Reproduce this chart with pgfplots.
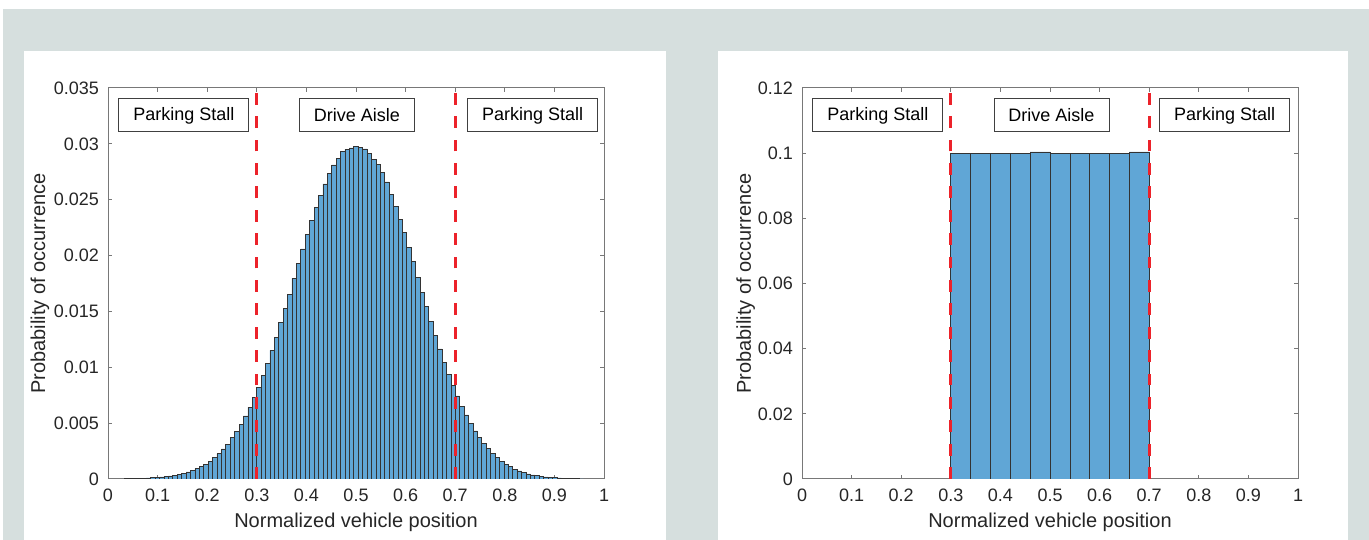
\documentclass[border=0pt]{standalone}
\usepackage{fontspec}
\setmainfont{Liberation Sans}
\usepackage{pgfplots}
\pgfplotsset{compat=1.18}
\definecolor{bggray}{RGB}{214,223,222}
\definecolor{barblue}{RGB}{96,166,214}
\definecolor{dashred}{RGB}{236,34,42}
\definecolor{axgray}{RGB}{120,120,120}
\definecolor{txt}{RGB}{38,38,38}
\pgfplotsset{
  myaxis/.style={
    scale only axis, width=248pt, height=195.5pt,
    xmin=0, xmax=1, ymin=0,
    axis line style={axgray, line width=0.5pt},
    every tick/.style={axgray, line width=0.5pt},
    major tick length=2pt,
    tick align=inside,
    scaled ticks=false,
    xtick={0,0.1,0.2,0.3,0.4,0.5,0.6,0.7,0.8,0.9,1},
    xticklabels={0,0.1,0.2,0.3,0.4,0.5,0.6,0.7,0.8,0.9,1},
    tick label style={font=\fontsize{9}{10}\selectfont, text=txt},
    xticklabel style={yshift=-1.5pt},
    yticklabel style={xshift=-1pt},
    label style={font=\fontsize{10}{12}\selectfont, text=txt},
    xlabel={Normalized vehicle position},
    ylabel={Probability of occurrence},
    xlabel style={at={(axis description cs:0.5,-0.1228)}, anchor=base},
  },
}
\tikzset{lbl/.style={draw=black!75, line width=0.5pt, fill=white, font=\fontsize{9}{10}\selectfont, text=black, minimum height=16.5pt, inner xsep=0pt, inner ysep=0pt},
  reddash/.style={draw=dashred, mark=none, line width=1.65pt, dash pattern=on 5.85pt off 5.85pt},
  histbar/.style={ybar interval, fill=barblue, draw=black!80, line width=0.35pt}}
\begin{document}
\begin{tikzpicture}
\fill[white] (0pt,0pt) rectangle (684.5pt,270pt);
\fill[bggray] (1.5pt,0pt) rectangle (684.5pt,265.5pt);
\fill[white] (12pt,0pt) rectangle (333pt,244.5pt);
\fill[white] (359pt,0pt) rectangle (674pt,244.5pt);

\begin{axis}[myaxis, at={(54pt,30.5pt)}, anchor=south west,
  ymax=0.035,
  ytick={0,0.005,0.01,0.015,0.02,0.025,0.03,0.035},
  yticklabels={0,0.005,0.01,0.015,0.02,0.025,0.03,0.035},
  ylabel style={at={(axis description cs:-0.127,0.5)}, anchor=base},
]
\addplot[histbar] coordinates {
(0.03275,0.00002) (0.04165,0.00003) (0.05055,0.00004) (0.05945,0.00005)
(0.06835,0.00007) (0.07725,0.00009) (0.08615,0.00012) (0.09505,0.00015)
(0.10395,0.00018) (0.11285,0.00021) (0.12175,0.00027) (0.13065,0.00033)
(0.13955,0.00039) (0.14845,0.00051) (0.15735,0.00063) (0.16625,0.00078)
(0.17515,0.00092) (0.18405,0.00114) (0.19295,0.00134) (0.20185,0.00161)
(0.21075,0.00194) (0.21965,0.00227) (0.22855,0.00269) (0.23745,0.00313)
(0.24635,0.00370) (0.25525,0.00424) (0.26415,0.00490) (0.27305,0.00564)
(0.28195,0.00642) (0.29085,0.00728) (0.29975,0.00823) (0.30865,0.00928)
(0.31755,0.01035) (0.32645,0.01152) (0.33535,0.01268) (0.34425,0.01399)
(0.35315,0.01525) (0.36205,0.01653) (0.37095,0.01796) (0.37985,0.01927)
(0.38875,0.02059) (0.39765,0.02187) (0.40655,0.02312) (0.41545,0.02429)
(0.42435,0.02542) (0.43325,0.02641) (0.44215,0.02736) (0.45105,0.02811)
(0.45995,0.02871) (0.46885,0.02930) (0.47775,0.02951) (0.48665,0.02963)
(0.49555,0.02975) (0.50445,0.02969) (0.51335,0.02954) (0.52225,0.02915)
(0.53115,0.02862) (0.54005,0.02817) (0.54895,0.02742) (0.55785,0.02659)
(0.56675,0.02548) (0.57565,0.02441) (0.58455,0.02327) (0.59345,0.02205)
(0.60235,0.02074) (0.61125,0.01945) (0.62015,0.01808) (0.62905,0.01671)
(0.63795,0.01542) (0.64685,0.01412) (0.65575,0.01286) (0.66465,0.01164)
(0.67355,0.01047) (0.68245,0.00937) (0.69135,0.00835) (0.70025,0.00743)
(0.70915,0.00653) (0.71805,0.00573) (0.72695,0.00498) (0.73585,0.00430)
(0.74475,0.00373) (0.75365,0.00320) (0.76255,0.00275) (0.77145,0.00230)
(0.78035,0.00191) (0.78925,0.00161) (0.79815,0.00131) (0.80705,0.00110)
(0.81595,0.00087) (0.82485,0.00072) (0.83375,0.00057) (0.84265,0.00045)
(0.85155,0.00036) (0.86045,0.00030) (0.86935,0.00024) (0.87825,0.00018)
(0.88715,0.00015) (0.89605,0.00012) (0.90495,0.00009) (0.91385,0.00006)
(0.92275,0.00004) (0.93165,0.00003) (0.94055,0.00002) (0.94945,0.00001)
(0.95835,0.00001)
};
\addplot[reddash] coordinates {(0.3,0) (0.3,0.035)};
\addplot[reddash] coordinates {(0.7,0) (0.7,0.035)};
\node[lbl, minimum width=65pt] at (rel axis cs:0.153,0.9297) {Parking Stall};
\node[lbl, minimum width=57.5pt] at (rel axis cs:0.502,0.9297) {Drive Aisle};
\node[lbl, minimum width=65pt] at (rel axis cs:0.856,0.9297) {Parking Stall};
\end{axis}

\begin{axis}[myaxis, at={(401pt,30.5pt)}, anchor=south west,
  ymax=0.12,
  ytick={0,0.02,0.04,0.06,0.08,0.1,0.12},
  yticklabels={0,0.02,0.04,0.06,0.08,0.1,0.12},
  ylabel style={at={(axis description cs:-0.103,0.5)}, anchor=base},
]
\addplot[histbar] coordinates {
(0.30,0.1000) (0.34,0.0999) (0.38,0.0999) (0.42,0.0999) (0.46,0.1004)
(0.50,0.0999) (0.54,0.0999) (0.58,0.0999) (0.62,0.0999) (0.66,0.1004)
(0.70,0.1004)
};
\addplot[reddash] coordinates {(0.3,0) (0.3,0.12)};
\addplot[reddash] coordinates {(0.7,0) (0.7,0.12)};
\node[lbl, minimum width=65pt] at (rel axis cs:0.153,0.9297) {Parking Stall};
\node[lbl, minimum width=57.5pt] at (rel axis cs:0.503,0.9297) {Drive Aisle};
\node[lbl, minimum width=65pt] at (rel axis cs:0.852,0.9297) {Parking Stall};
\end{axis}
\end{tikzpicture}
\end{document}
